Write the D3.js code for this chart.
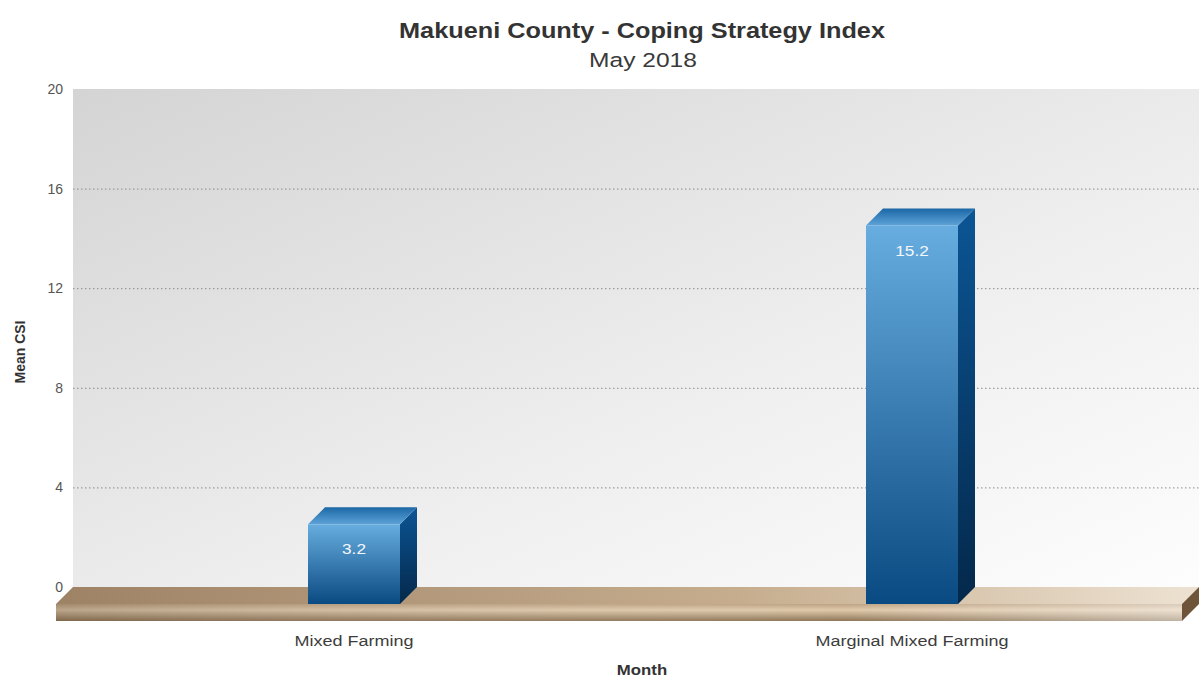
<!DOCTYPE html>
<html>
<head>
<meta charset="utf-8">
<script src="https://cdn.jsdelivr.net/npm/d3@7"></script>
<style>
  body { margin: 0; background: #fff; }
  text { font-family: "Liberation Sans", Arial, sans-serif; }
</style>
</head>
<body>
<svg id="chart"></svg>
<script>
const categories = ["Mixed Farming", "Marginal Mixed Farming"];
const values = [3.2, 15.2];
const yTicks = [0, 4, 8, 12, 16, 20];

const width = 1199, height = 678;
const depthX = 17, depthY = 17;   // 3d offset between back wall and front plane
const wall = { left: 73, right: 1199, top: 89, bottom: 587 };

const svg = d3.select("#chart")
    .attr("width", width)
    .attr("height", height);

const defs = svg.append("defs");

function linGrad(id, x1, y1, x2, y2, stops) {
    const g = defs.append("linearGradient").attr("id", id)
        .attr("x1", x1).attr("y1", y1).attr("x2", x2).attr("y2", y2);
    stops.forEach(s => g.append("stop").attr("offset", s[0]).attr("stop-color", s[1]));
}
linGrad("wallGrad", "0%", "0%", "100%", "100%", [["0%", "#d4d4d4"], ["60%", "#efefef"], ["100%", "#fdfdfd"]]);
linGrad("floorTop", "0%", "0%", "100%", "0%", [["0%", "#9e8265"], ["60%", "#c6ad8e"], ["100%", "#ede2d2"]]);
linGrad("floorFront", "0%", "0%", "0%", "100%", [["0%", "#bda283"], ["35%", "#dfc9ab"], ["100%", "#8f7658"]]);
linGrad("floorFrontH", "0%", "0%", "100%", "0%", [["0%", "rgba(80,60,40,0.25)"], ["70%", "rgba(255,255,255,0)"], ["100%", "rgba(255,255,255,0.45)"]]);
linGrad("barFront", "0%", "0%", "0%", "100%", [["0%", "#67addf"], ["100%", "#0a4a82"]]);
linGrad("barSide", "0%", "0%", "0%", "100%", [["0%", "#0b5595"], ["100%", "#04284a"]]);
linGrad("barTop", "0%", "100%", "0%", "0%", [["0%", "#5ea3d8"], ["100%", "#1b67a6"]]);

// text with a little horizontal stretch, like the original renderer
function label(parent, x, y, txt, size, opts = {}) {
    return parent.append("text")
        .attr("transform", `translate(${x},${y}) scale(${opts.sx || 1},1)` + (opts.rot ? ` rotate(${opts.rot})` : ""))
        .attr("text-anchor", opts.anchor || "middle")
        .attr("font-size", size)
        .attr("font-weight", opts.bold ? "bold" : "normal")
        .attr("fill", opts.fill || "#333")
        .text(txt);
}

// scales
const yBack = d3.scaleLinear().domain([0, 20]).range([wall.bottom, wall.top]);
const yFront = d3.scaleLinear().domain([0, 20]).range([wall.bottom + depthY, wall.top + depthY]);
const x = d3.scaleBand().domain(categories).range([75, 1191]);
const barW = 92;

// back wall
svg.append("rect")
    .attr("x", wall.left).attr("y", wall.top)
    .attr("width", wall.right - wall.left).attr("height", wall.bottom - wall.top)
    .attr("fill", "url(#wallGrad)");

// grid lines
const grid = svg.append("g")
    .attr("transform", `translate(${wall.left},0)`)
    .call(d3.axisLeft(yBack).tickValues(yTicks.filter(t => t > 0 && t < 20))
        .tickSize(-(wall.right - wall.left)).tickFormat(""));
grid.select(".domain").remove();
grid.selectAll("line")
    .attr("stroke", "#8a8a8a").attr("stroke-dasharray", "1.5,2.5").attr("stroke-width", 1);

// y axis labels
const yAxis = svg.append("g")
    .attr("transform", "translate(63,0)")
    .call(d3.axisLeft(yBack).tickValues(yTicks).tickSize(0).tickPadding(0));
yAxis.select(".domain").remove();
yAxis.selectAll("text").attr("fill", "#555").attr("font-size", 14)
    .attr("font-family", "'Liberation Sans', Arial, sans-serif");

// floor
const f0 = yBack(0), f1 = yFront(0), floorH = 17;
const fl = wall.left - depthX, fr = wall.right - depthX;
svg.append("polygon")
    .attr("points", [[wall.left, f0], [wall.right, f0], [fr, f1], [fl, f1]].map(p => p.join(",")).join(" "))
    .attr("fill", "url(#floorTop)");
svg.append("rect")
    .attr("x", fl).attr("y", f1).attr("width", fr - fl).attr("height", floorH)
    .attr("fill", "url(#floorFront)");
svg.append("rect")
    .attr("x", fl).attr("y", f1).attr("width", fr - fl).attr("height", floorH)
    .attr("fill", "url(#floorFrontH)");
svg.append("polygon")
    .attr("points", [[fr, f1], [wall.right, f0], [wall.right, f0 + floorH], [fr, f1 + floorH]].map(p => p.join(",")).join(" "))
    .attr("fill", "#6e5539");

// bars
const bars = svg.selectAll(".bar")
    .data(categories.map((c, i) => ({ cat: c, value: values[i] })))
    .enter().append("g")
    .attr("class", "bar");

bars.each(function (d) {
    const g = d3.select(this);
    const xl = x(d.cat) + x.bandwidth() / 2 - barW / 2;
    const xr = xl + barW;
    const yt = yFront(d.value), yb = yFront(0);
    g.append("polygon")
        .attr("points", [[xr, yt], [xr + depthX, yt - depthY], [xr + depthX, yb - depthY], [xr, yb]].map(p => p.join(",")).join(" "))
        .attr("fill", "url(#barSide)");
    g.append("polygon")
        .attr("points", [[xl, yt], [xl + depthX, yt - depthY], [xr + depthX, yt - depthY], [xr, yt]].map(p => p.join(",")).join(" "))
        .attr("fill", "url(#barTop)");
    g.append("rect")
        .attr("x", xl).attr("y", yt).attr("width", barW).attr("height", yb - yt)
        .attr("fill", "url(#barFront)");
    label(g, xl + barW / 2, yt + 30, d.value.toFixed(1), 15, { fill: "#f4f8fc", sx: 1.15 });
});

// category labels
categories.forEach(c => {
    label(svg, x(c) + x.bandwidth() / 2, 646, c, 15, { fill: "#3d3d3d", sx: 1.2 });
});

// titles
label(svg, 642, 38, "Makueni County - Coping Strategy Index", 22, { bold: true, sx: 1.15 });
label(svg, 643, 67, "May 2018", 19.5, { sx: 1.26, fill: "#3a3a3a" });

// axis titles
label(svg, 642, 675, "Month", 15, { bold: true, sx: 1.12 });
label(svg, 25, 352, "Mean CSI", 14, { bold: true, rot: -90 });
</script>
</body>
</html>
